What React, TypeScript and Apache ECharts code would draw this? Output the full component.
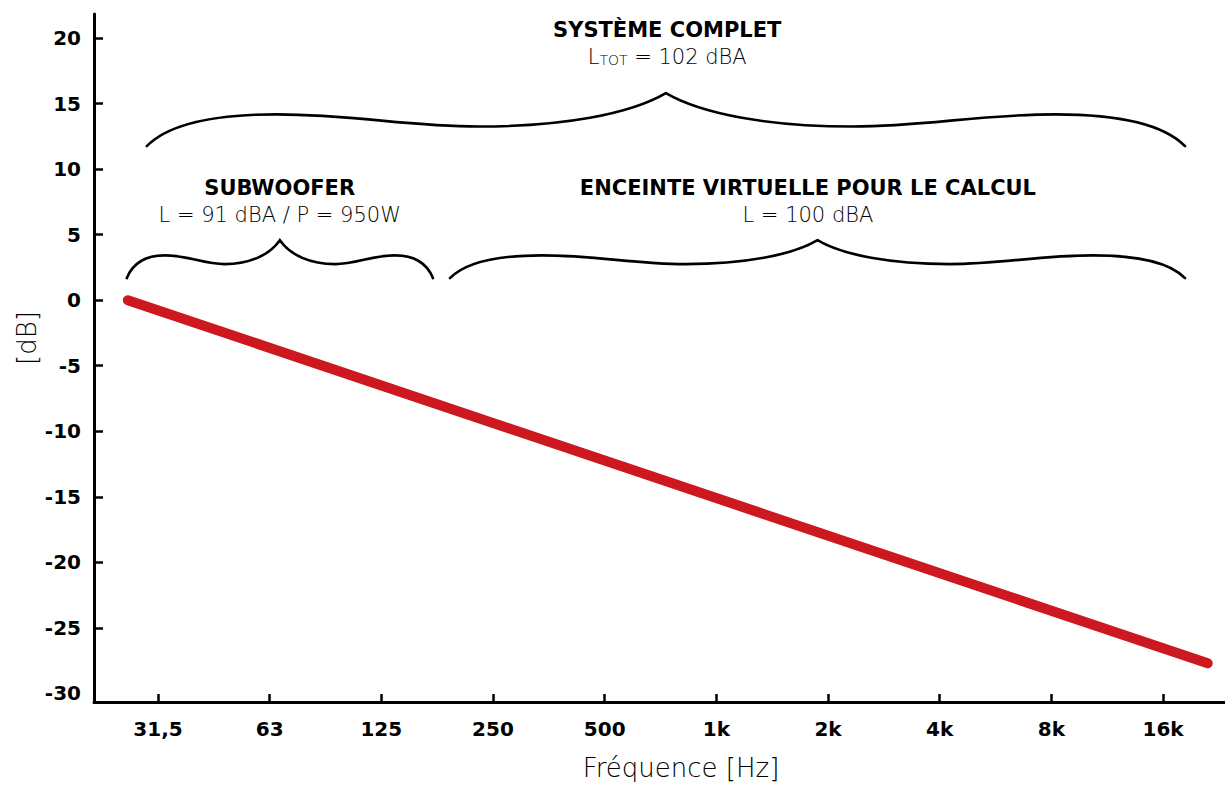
import React, { useEffect, useRef } from "react";
import * as echarts from "echarts";

// x values are octave positions, 0 = the 31,5 Hz band
const bandLabels = ["31,5", "63", "125", "250", "500", "1k", "2k", "4k", "8k", "16k"];
const bandPositions = [0, 1, 2, 3, 4, 5, 6, 7, 8, 9];
const dbLabels = [-30, -25, -20, -15, -10, -5, 0, 5, 10, 15, 20];
const dbTickMarks = [-25, -20, -15, -10, -5, 0, 5, 10, 15, 20];

// red level line
const levelX = [-0.27, 9.4];
const levelY = [0, -27.7];

// braces (x in octaves, y in dB)
const braceFrom = [-0.1, -0.28, 2.615];
const braceTo = [9.197, 2.463, 9.197];
const braceBase = [11.75, 1.68, 1.68];
const braceTip = [15.79, 4.58, 4.58];
const labelX = [4.56, 1.09, 5.82];
const titleY = [20.6, 8.54, 8.54];
const subtitleY = [18.54, 6.48, 6.48];
const titles = ["SYSTÈME COMPLET", "SUBWOOFER", "ENCEINTE VIRTUELLE POUR LE CALCUL"];
const subtitles = ["{l|L}{s|TOT}{l| = 102 dBA}", "L = 91 dBA / P = 950W", "L = 100 dBA"];

const FAMILY = '"DejaVu Sans"';

export default function App() {
  const ref = useRef<HTMLDivElement>(null);
  useEffect(() => {
    if (!ref.current) return;
    const chart = echarts.init(ref.current, null, { renderer: "svg" });
    const braceData = braceFrom.map((f, i) => [
      f, braceTo[i], braceBase[i], braceTip[i], labelX[i], titleY[i], subtitleY[i],
    ]);
    chart.setOption({
      animation: false,
      backgroundColor: "#fff",
      grid: { left: 94, right: 0, top: 14, bottom: 83, containLabel: false },
      xAxis: {
        type: "value",
        min: -0.573,
        max: 9.555,
        splitLine: { show: false },
        axisLine: { show: true, onZero: false, lineStyle: { color: "#000", width: 3 } },
        axisTick: {
          show: true,
          inside: true,
          length: 8,
          lineStyle: { color: "#000", width: 2.5 },
          customValues: bandPositions,
        },
        axisLabel: {
          customValues: bandPositions,
          formatter: (v: number) => bandLabels[Math.round(v)] ?? "",
          margin: 17,
          color: "#000",
          fontFamily: FAMILY,
          fontWeight: "bold",
          fontSize: 20,
        },
      },
      yAxis: {
        type: "value",
        min: -30.65,
        max: 21.83,
        splitLine: { show: false },
        axisLine: { show: true, onZero: false, lineStyle: { color: "#000", width: 3 } },
        axisTick: {
          show: true,
          inside: true,
          length: 9,
          lineStyle: { color: "#000", width: 2.5 },
          customValues: dbTickMarks,
        },
        axisLabel: {
          customValues: dbLabels,
          formatter: (v: number) => String(v),
          margin: 13,
          color: "#000",
          fontFamily: FAMILY,
          fontWeight: "bold",
          fontSize: 20,
        },
      },
      graphic: [
        {
          type: "text",
          x: 27,
          y: 338,
          rotation: Math.PI / 2,
          style: {
            text: "[dB]",
            align: "center",
            verticalAlign: "middle",
            font: `200 26px ${FAMILY}`,
            fill: "#000",
          },
        },
        {
          type: "text",
          x: 681,
          y: 768,
          style: {
            text: "Fréquence [Hz]",
            align: "center",
            verticalAlign: "middle",
            font: `200 26px ${FAMILY}`,
            fill: "#000",
          },
        },
      ],
      series: [
        {
          type: "custom",
          coordinateSystem: "cartesian2d",
          silent: true,
          data: braceData,
          renderItem: (params: any, api: any) => {
            const i = params.dataIndex;
            const from = api.value(0);
            const to = api.value(1);
            const base = api.value(2);
            const tip = api.value(3);
            const a = api.coord([from, base]);
            const b = api.coord([to, base]);
            const t = api.coord([(from + to) / 2, tip]);
            const W = b[0] - a[0];
            const H = a[1] - t[1];
            const P = (u: number, v: number) =>
              `${(a[0] + u * W).toFixed(2)},${(a[1] - v * H).toFixed(2)}`;
            const d =
              `M${P(0, 0)} C${P(0.02, 0.4)} ${P(0.06, 0.6)} ${P(0.125, 0.6)}` +
              ` C${P(0.2, 0.6)} ${P(0.25, 0.37)} ${P(0.32, 0.37)}` +
              ` C${P(0.4, 0.37)} ${P(0.465, 0.6)} ${P(0.5, 1)}` +
              ` C${P(0.535, 0.6)} ${P(0.6, 0.37)} ${P(0.68, 0.37)}` +
              ` C${P(0.75, 0.37)} ${P(0.8, 0.6)} ${P(0.875, 0.6)}` +
              ` C${P(0.94, 0.6)} ${P(0.98, 0.4)} ${P(1, 0)}`;
            const tp = api.coord([api.value(4), api.value(5)]);
            const sp = api.coord([api.value(4), api.value(6)]);
            return {
              type: "group",
              children: [
                {
                  type: "path",
                  shape: { pathData: d },
                  style: { fill: "none", stroke: "#000", lineWidth: 2.6, lineCap: "round" },
                },
                {
                  type: "text",
                  x: tp[0],
                  y: tp[1],
                  style: {
                    text: titles[i],
                    align: "center",
                    verticalAlign: "middle",
                    font: `bold 21px ${FAMILY}`,
                    fill: "#000",
                  },
                },
                {
                  type: "text",
                  x: sp[0],
                  y: sp[1],
                  style: {
                    text: subtitles[i],
                    align: "center",
                    verticalAlign: "middle",
                    font: `200 21px ${FAMILY}`,
                    fill: "#000",
                    rich: {
                      l: { font: `200 21px ${FAMILY}`, fill: "#000", verticalAlign: "bottom" },
                      s: { font: `200 14px ${FAMILY}`, fill: "#000", verticalAlign: "bottom", padding: [0, 0, 1, 0] },
                    },
                  },
                },
              ],
            };
          },
        },
        {
          type: "line",
          data: levelX.map((x, i) => [x, levelY[i]]),
          symbol: "none",
          silent: true,
          lineStyle: { color: "#cc181e", width: 10, cap: "round" },
          z: 3,
        },
      ],
    });
    return () => chart.dispose();
  }, []);
  return (
    <div
      ref={ref}
      style={{ position: "absolute", left: 0, top: 0, width: 1225, height: 785 }}
    />
  );
}
